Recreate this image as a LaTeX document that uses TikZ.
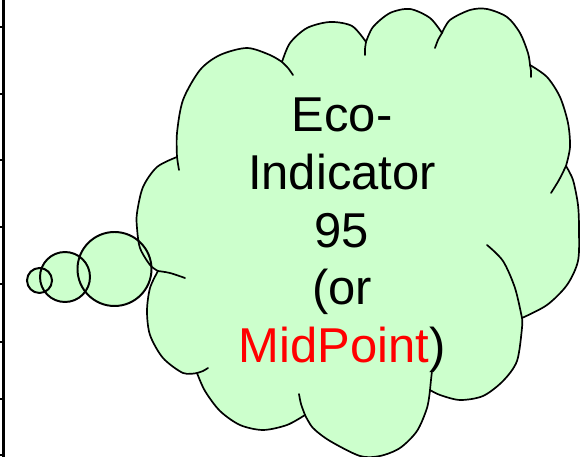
\documentclass[tikz,border=0pt]{standalone}
\usepackage{fontspec}
\setmainfont{Liberation Sans}
\definecolor{cloudgreen}{RGB}{204,255,204}

\begin{document}
\begin{tikzpicture}[
		x=0.025cm, y=-0.025cm,
		cloudbody/.style={fill=cloudgreen, draw=black, line width=1.2pt, line join=round},
		stub/.style={draw=black, line width=1.2pt, line cap=round},
		bubble/.style={line width=1.4pt},
		cloudtext/.style={align=center, inner sep=0pt, font=\fontsize{34.8}{41}\selectfont}
	]
	\useasboundingbox (0,0) rectangle (580,457);

	% axis on the left
	\draw[line width=2.1pt] (3.3,0) -- (3.3,457);
	\foreach \ty in {27,94,160,227,284,342,399,455}
		\draw[line width=1.5pt] (0,\ty) -- (3.3,\ty);

	% thought bubbles
	\foreach \bx/\by/\br [count=\i] in {39.5/280.5/12.5, 65/277/25, 114.5/269/37}
		\fill[cloudgreen] (\bx,\by) circle[radius=\br];

	% the cloud
	\path[cloudbody]
		plot[smooth] coordinates {(177,157) (177,133) (183,100) (200,70) (220,55) (247,48) (270,55) (282,62)}
		-- plot[smooth] coordinates {(282,62) (290,43) (307,28) (330,22) (352,26) (366,42)}
		-- plot[smooth] coordinates {(366,42) (373,27) (390,13) (410,9) (430,18) (442,33)}
		-- plot[smooth] coordinates {(442,33) (450,20) (470,10) (487,9) (507,17) (520,33) (528,53) (530,65)}
		-- plot[smooth] coordinates {(530,65) (547,77) (560,97) (568,123) (570,147) (566,166)}
		-- plot[smooth] coordinates {(566,166) (573,180) (578,205) (579,230) (578,261) (567,285) (547,305) (522,318)}
		-- plot[smooth] coordinates {(522,318) (522,328) (517,361) (503,381) (483,396) (460,400) (440,395) (430,390)}
		-- plot[smooth] coordinates {(430,390) (427,408) (417,431) (400,448) (380,456) (360,456) (330,441) (313,428) (305,415)}
		-- plot[smooth] coordinates {(305,415) (287,425) (263,430) (240,425) (220,411) (205,391) (197,373)}
		-- plot[smooth] coordinates {(197,373) (183,373) (163,358) (150,335) (147,311) (150,288) (158,271)}
		-- plot[smooth] coordinates {(158,271) (150,265) (140,248) (137,228) (137,213) (143,187) (157,167) (177,157)}
		-- cycle;

	% inner arcs of the cloud
	\draw[stub] plot[smooth] coordinates {(177,157) (178,164) (179,170)};
	\draw[stub] plot[smooth] coordinates {(282,62) (288,68) (293,75)};
	\draw[stub] plot[smooth] coordinates {(366,42) (365,49) (365,55)};
	\draw[stub] plot[smooth] coordinates {(442,33) (438,40) (435,48)};
	\draw[stub] plot[smooth] coordinates {(530,65) (531,71) (531,77)};
	\draw[stub] plot[smooth] coordinates {(566,166) (559,180) (551,193)};
	\draw[stub] plot[smooth] coordinates {(487,245) (503,261) (515,288) (522,318)};
	\draw[stub] plot[smooth] coordinates {(430,390) (431,380) (432,371)};
	\draw[stub] plot[smooth] coordinates {(305,415) (301,404) (299,394)};
	\draw[stub] plot[smooth] coordinates {(197,373) (203,371) (208,368)};
	\draw[stub] plot[smooth] coordinates {(158,271) (170,273) (185,278)};

	% bubble outlines on top
	\foreach \bx/\by/\br [count=\i] in {39.5/280.5/12.5, 65/277/25, 114.5/269/37}
		\draw[bubble] (\bx,\by) circle[radius=\br];

	\node[cloudtext] (eco) at (342,235.5) {Eco-\\Indicator\\95\\(or\\\textcolor{red}{MidPoint})};
\end{tikzpicture}
\end{document}
